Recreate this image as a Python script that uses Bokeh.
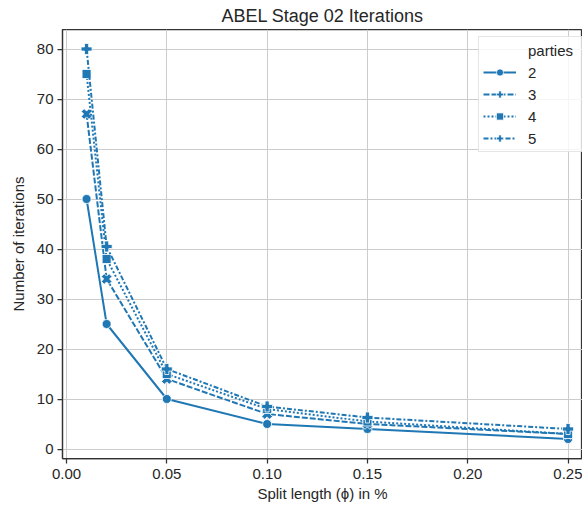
import math
from bokeh.plotting import figure
from bokeh.models import Range1d, Legend, LegendItem, FixedTicker
from bokeh.embed import file_html
from bokeh.resources import INLINE

split_length = [0.01, 0.02, 0.05, 0.10, 0.15, 0.25]
party_labels = ["2", "3", "4", "5"]
iters_2 = [50, 25, 10, 5, 4, 2]
iters_3 = [67, 34, 14, 7, 5, 3]
iters_4 = [75, 38, 15, 8, 5.5, 3]
iters_5 = [80, 40.5, 16, 8.5, 6.3, 4]
x_ticks = [0.00, 0.05, 0.10, 0.15, 0.20, 0.25]
y_ticks = [0, 10, 20, 30, 40, 50, 60, 70, 80]

FONT = "Liberation Sans"
TXT = "#262626"
BLUE = "#1f77b4"

p = figure(width=582, height=504, output_backend="svg", toolbar_location=None,
           x_range=Range1d(-0.002, 0.2572), y_range=Range1d(-1.9, 83.9),
           min_border_left=62, min_border_right=0, min_border_top=0, min_border_bottom=46)

p.title.text = "ABEL Stage 02 Iterations"
p.title.align = "center"
p.title.text_font = FONT
p.title.text_font_style = "normal"
p.title.text_font_size = "18px"
p.title.text_color = TXT
p.title.standoff = 7

p.outline_line_color = "#333333"
p.outline_line_width = 1.25
p.background_fill_color = "white"
p.border_fill_color = "white"

for ax in (p.xaxis, p.yaxis):
    ax.axis_line_color = "#333333"
    ax.axis_line_width = 1.25
    ax.major_tick_line_color = "#333333"
    ax.major_tick_line_width = 1.25
    ax.major_tick_out = 5
    ax.major_tick_in = 0
    ax.minor_tick_line_color = None
    ax.major_label_text_font = FONT
    ax.major_label_text_font_size = "15px"
    ax.major_label_text_color = TXT
    ax.axis_label_text_font = FONT
    ax.axis_label_text_font_size = "15px"
    ax.axis_label_text_font_style = "normal"
    ax.axis_label_text_color = TXT

p.xaxis.ticker = FixedTicker(ticks=x_ticks)
p.yaxis.ticker = FixedTicker(ticks=y_ticks)
p.xaxis.major_label_overrides = {t: f"{t:.2f}" for t in x_ticks}
p.xaxis.axis_label = "Split length (ϕ) in %"
p.yaxis.axis_label = "Number of iterations"
p.xaxis.major_label_standoff = 5
p.yaxis.major_label_standoff = 4
p.xaxis.axis_label_standoff = 3
p.yaxis.axis_label_standoff = 7

p.grid.grid_line_color = "#cccccc"
p.grid.grid_line_width = 1

series = [iters_2, iters_3, iters_4, iters_5]
dashes = ["solid", "6 2", "2 2", "5 2 2 2"]
markers = [("circle", 0.0, 9), ("plus", math.pi / 4, 11), ("square", 0.0, 9), ("plus", 0.0, 11)]

items = []
ghost = p.line([0.1], [40], line_alpha=0)
items.append(LegendItem(label="parties", renderers=[ghost]))
for lab, ys, dash, (mk, ang, sz) in zip(party_labels, series, dashes, markers):
    ln = p.line(split_length, ys, line_color=BLUE, line_width=2, line_dash=dash)
    sc = p.scatter(split_length, ys, marker=mk, angle=ang, size=sz,
                   fill_color=BLUE, line_color="white", line_width=0.8)
    items.append(LegendItem(label=lab, renderers=[ln, sc]))

legend = Legend(items=items, location=(416, 306), margin=0, padding=4,
                spacing=4, glyph_width=33, glyph_height=18, label_height=18,
                label_width=52, label_standoff=12, label_text_font=FONT,
                label_text_font_size="15px",
                label_text_color=TXT, border_line_color="#cccccc", border_line_width=1,
                background_fill_color="white", background_fill_alpha=0.8)
p.add_layout(legend, "center")

open("out.html", "w").write(file_html(p, INLINE))
